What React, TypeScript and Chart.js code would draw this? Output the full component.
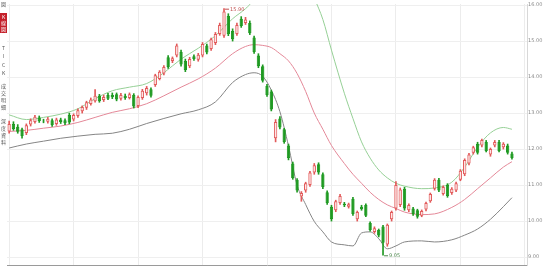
import React, { useEffect, useRef } from 'react';
import { Chart, registerables } from 'chart.js';

Chart.register(...registerables);

// ---- Candles ----
const opens = [
  12.49, 12.70, 12.62, 12.55, 12.45, 12.68, 12.75, 12.88, 12.79, 12.76,
  12.80, 12.70, 12.82, 12.80, 12.95, 12.82, 12.92, 13.05, 13.15, 13.25,
  13.33, 13.48, 13.36, 13.50, 13.50, 13.52, 13.40, 13.48, 13.42, 13.50,
  13.20, 13.42, 13.55, 13.66, 13.78, 13.95, 14.10, 14.55, 14.45, 14.60,
  14.70, 14.45, 14.30, 14.58, 14.48, 14.60, 14.88, 14.78, 14.95, 15.20,
  15.15, 15.70, 15.28, 15.20, 15.62, 15.50, 15.50, 15.10, 14.60, 14.30,
  13.75, 13.60, 12.30, 12.85, 12.55, 12.10, 11.60, 11.15, 10.68, 10.85,
  11.00, 11.35, 11.58, 11.30, 10.80, 10.40, 10.30, 10.50, 10.48, 10.40,
  10.62, 10.05, 10.40, 10.45, 9.95, 9.70, 9.75, 9.85, 9.35, 10.05,
  10.35, 10.45, 10.90, 10.30, 10.35, 10.30, 10.15, 10.32, 10.55, 10.90,
  11.15, 10.75, 11.00, 10.78, 10.85, 11.15, 11.30, 11.60, 11.90, 12.15,
  12.10, 12.20, 11.85, 12.10, 12.20, 12.05, 12.10, 11.88,
];
const highs = [
  12.78, 12.76, 12.68, 12.58, 12.70, 12.84, 12.94, 12.92, 12.83, 12.88,
  12.84, 12.86, 12.86, 12.84, 13.00, 12.98, 13.12, 13.20, 13.33, 13.42,
  13.65, 13.52, 13.50, 13.55, 13.56, 13.56, 13.55, 13.53, 13.56, 13.54,
  13.48, 13.66, 13.74, 13.70, 14.08, 14.18, 14.32, 14.60, 14.56, 14.92,
  14.75, 14.50, 14.55, 14.62, 14.66, 14.96, 14.92, 15.08, 15.24, 15.50,
  15.90, 15.76, 15.34, 15.50, 15.68, 15.66, 15.56, 15.14, 14.65, 14.34,
  13.80, 13.64, 12.82, 12.90, 12.58, 12.14, 11.64, 11.18, 10.82, 11.08,
  11.38, 11.60, 11.62, 11.34, 10.84, 10.44, 10.58, 10.74, 10.52, 10.50,
  10.66, 10.28, 10.44, 10.48, 9.98, 9.84, 9.78, 9.88, 9.92, 10.28,
  11.10, 10.92, 10.94, 10.48, 10.38, 10.33, 10.31, 10.53, 10.78, 11.18,
  11.19, 10.98, 11.04, 10.93, 11.08, 11.43, 11.73, 11.88, 12.08, 12.19,
  12.28, 12.24, 12.03, 12.24, 12.24, 12.18, 12.14, 11.92,
];
const lows = [
  12.44, 12.52, 12.44, 12.30, 12.40, 12.64, 12.72, 12.74, 12.73, 12.72,
  12.63, 12.66, 12.71, 12.68, 12.70, 12.78, 12.88, 13.00, 13.10, 13.22,
  13.30, 13.30, 13.32, 13.37, 13.40, 13.34, 13.36, 13.38, 13.39, 13.14,
  13.15, 13.38, 13.50, 13.44, 13.74, 13.92, 14.06, 14.24, 14.40, 14.56,
  14.30, 14.15, 14.26, 14.46, 14.44, 14.56, 14.64, 14.74, 14.90, 15.16,
  15.10, 15.15, 15.00, 15.16, 15.38, 15.46, 15.18, 14.66, 14.26, 13.86,
  13.46, 13.06, 12.20, 12.56, 12.16, 11.70, 11.16, 10.80, 10.55, 10.80,
  10.96, 11.30, 11.30, 10.90, 10.46, 10.00, 10.26, 10.46, 10.40, 10.36,
  10.16, 10.00, 10.30, 10.12, 9.72, 9.66, 9.56, 9.05, 9.30, 10.00,
  10.30, 10.40, 10.30, 10.26, 10.16, 10.08, 10.12, 10.28, 10.52, 10.86,
  10.82, 10.72, 10.66, 10.74, 10.82, 11.12, 11.26, 11.56, 11.86, 11.86,
  12.06, 11.92, 11.80, 12.06, 11.92, 12.00, 11.86, 11.72,
];
const closes = [
  12.70, 12.56, 12.48, 12.36, 12.66, 12.80, 12.90, 12.78, 12.77, 12.84,
  12.67, 12.82, 12.75, 12.72, 12.74, 12.95, 13.08, 13.17, 13.30, 13.38,
  13.48, 13.33, 13.45, 13.40, 13.44, 13.38, 13.50, 13.42, 13.52, 13.18,
  13.45, 13.62, 13.70, 13.48, 14.05, 14.15, 14.28, 14.28, 14.52, 14.88,
  14.35, 14.20, 14.50, 14.50, 14.62, 14.92, 14.68, 15.05, 15.20, 15.45,
  15.82, 15.20, 15.05, 15.45, 15.42, 15.60, 15.22, 14.70, 14.30, 13.90,
  13.50, 13.10, 12.75, 12.60, 12.20, 11.75, 11.20, 10.85, 10.78, 11.05,
  11.35, 11.55, 11.35, 10.95, 10.50, 10.05, 10.55, 10.70, 10.44, 10.47,
  10.20, 10.25, 10.33, 10.15, 9.75, 9.80, 9.60, 9.40, 9.90, 10.25,
  11.00, 10.88, 10.35, 10.45, 10.20, 10.12, 10.28, 10.50, 10.75, 11.15,
  10.85, 10.95, 10.70, 10.90, 11.05, 11.40, 11.70, 11.85, 12.05, 11.90,
  12.25, 11.95, 12.00, 12.20, 11.95, 12.15, 11.90, 11.75,
];

// ---- Bollinger bands (read at sampled candle positions) ----
const bandIdx = [
  0, 4, 8, 12, 16, 20, 24, 28, 32, 36, 40, 44, 48, 52, 55, 57, 59, 61, 63, 65,
  67, 69, 71, 73, 75, 78, 80, 82, 84, 86, 88, 90, 92, 96, 99, 103, 106, 109, 112, 115, 117,
];
const upperBand = [
  12.95, 12.82, 12.88, 12.97, 13.12, 13.40, 13.62, 13.72, 13.82, 14.12,
  14.50, 14.80, 15.15, 15.62, 15.90, 16.15, 16.50, 16.90, 17.30, 17.50,
  17.40, 16.80, 16.20, 15.60, 14.75, 13.55, 12.85, 12.20, 11.75, 11.42,
  11.20, 11.05, 10.97, 10.90, 10.92, 11.08, 11.50, 12.05, 12.45, 12.60, 12.55,
];
const midBand = [
  12.49, 12.52, 12.58, 12.64, 12.74, 12.88, 13.02, 13.12, 13.26, 13.48,
  13.72, 13.95, 14.25, 14.65, 14.85, 14.90, 14.88, 14.82, 14.65, 14.45,
  14.10, 13.60, 13.00, 12.55, 12.10, 11.60, 11.30, 11.05, 10.80, 10.60,
  10.45, 10.35, 10.25, 10.18, 10.20, 10.38, 10.60, 10.90, 11.20, 11.50, 11.65,
];
const lowerBand = [
  12.03, 12.14, 12.22, 12.30, 12.36, 12.41, 12.44, 12.55, 12.71, 12.85,
  12.98, 13.09, 13.31, 13.85, 14.07, 14.12, 14.02, 13.64, 13.04, 12.09,
  11.00, 10.46, 9.99, 9.70, 9.42, 9.34, 9.31, 9.67, 9.70, 9.51,
  9.23, 9.31, 9.42, 9.45, 9.42, 9.48, 9.61, 9.78, 10.05, 10.40, 10.65,
];

const yTicks = [9, 10, 11, 12, 13, 14, 15, 16];
const EXTRA_SLOTS = 3;

const tabTop = ['圖'];
const tabActive = ['K', '線', '圖'];
const tabTick = ['T', 'I', 'C', 'K'];
const tabDetail = ['成', '交', '明', '細'];
const tabDepth = ['深', '度', '資', '料'];

const UP_FILL = '#fde6e6';
const UP_LINE = '#e25a5a';
const DOWN = '#1f9a22';

export default function App() {
  const ref = useRef<HTMLCanvasElement>(null);

  useEffect(() => {
    document.body.style.margin = '0';
    const n = opens.length + EXTRA_SLOTS;
    const labels = Array.from({ length: n }, (_, i) => String(i));
    const bodies = opens.map((o, i) => [o, closes[i]]);
    const wicks = opens.map((_, i) => [lows[i], highs[i]]);
    const up = opens.map((o, i) => closes[i] >= o);
    const toFull = (vals: number[]) => {
      const arr: (number | null)[] = new Array(n).fill(null);
      bandIdx.forEach((ix, k) => (arr[ix] = vals[k]));
      return arr;
    };

    const overlay = {
      id: 'overlay',
      afterDatasetsDraw(chart: any) {
        const ctx = chart.ctx;
        const xs = chart.scales.x;
        const ys = chart.scales.y;
        let hiI = 0;
        let loI = 0;
        highs.forEach((h, i) => { if (h > highs[hiI]) hiI = i; });
        lows.forEach((l, i) => { if (l < lows[loI]) loI = i; });
        ctx.save();
        ctx.font = '5px "DejaVu Sans"';
        ctx.textBaseline = 'middle';
        ctx.textAlign = 'left';
        const hx = xs.getPixelForValue(hiI);
        const hy = ys.getPixelForValue(highs[hiI]);
        ctx.strokeStyle = '#c05050';
        ctx.lineWidth = 1;
        ctx.beginPath();
        ctx.moveTo(hx + 1, hy + 0.5);
        ctx.lineTo(hx + 5, hy + 0.5);
        ctx.stroke();
        ctx.fillStyle = '#c05050';
        ctx.fillText(highs[hiI].toFixed(2), hx + 6, hy + 1);
        const lx = xs.getPixelForValue(loI);
        const ly = ys.getPixelForValue(lows[loI]);
        ctx.strokeStyle = '#4f8a4f';
        ctx.beginPath();
        ctx.moveTo(lx + 1, ly + 0.5);
        ctx.lineTo(lx + 5, ly + 0.5);
        ctx.stroke();
        ctx.fillStyle = '#4f8a4f';
        ctx.fillText(lows[loI].toFixed(2), lx + 6, ly);
        ctx.restore();
      },
      afterDraw(chart: any) {
        const ctx = chart.ctx;
        ctx.save();
        ctx.fillStyle = '#ffffff';
        ctx.fillRect(0, 0, 7, chart.height);
        ctx.font = '5px "Noto Sans CJK TC"';
        ctx.textAlign = 'center';
        ctx.textBaseline = 'middle';
        const put = (chars: string[], y0: number, step: number, color: string) => {
          ctx.fillStyle = color;
          chars.forEach((c, k) => ctx.fillText(c, 3.5, y0 + k * step));
        };
        put(tabTop, 4, 6, '#555');
        ctx.fillStyle = '#c4202a';
        ctx.fillRect(0, 13, 7, 20);
        put(tabActive, 17, 6, '#ffffff');
        put(tabTick, 48, 8.3, '#555');
        put(tabDetail, 86, 7, '#555');
        put(tabDepth, 121, 7, '#555');
        ctx.restore();
      },
    };

    const chart = new Chart(ref.current as HTMLCanvasElement, {
      type: 'bar',
      data: {
        labels,
        datasets: [
          {
            type: 'bar',
            data: bodies as any,
            backgroundColor: up.map((u) => (u ? UP_FILL : DOWN)),
            borderColor: up.map((u) => (u ? UP_LINE : DOWN)),
            borderWidth: 1,
            borderSkipped: false,
            barPercentage: 0.78,
            categoryPercentage: 1,
            grouped: false,
            order: 1,
          } as any,
          {
            type: 'bar',
            data: wicks as any,
            backgroundColor: up.map((u) => (u ? UP_LINE : DOWN)),
            borderWidth: 0,
            barThickness: 1,
            grouped: false,
            order: 2,
          } as any,
          {
            type: 'line',
            data: toFull(upperBand),
            borderColor: '#96d096',
            borderWidth: 1,
            pointRadius: 0,
            spanGaps: true,
            cubicInterpolationMode: 'monotone',
            order: 3,
          } as any,
          {
            type: 'line',
            data: toFull(midBand),
            borderColor: '#e48898',
            borderWidth: 1,
            pointRadius: 0,
            spanGaps: true,
            cubicInterpolationMode: 'monotone',
            order: 3,
          } as any,
          {
            type: 'line',
            data: toFull(lowerBand),
            borderColor: '#858585',
            borderWidth: 1,
            pointRadius: 0,
            spanGaps: true,
            cubicInterpolationMode: 'monotone',
            order: 3,
          } as any,
        ],
      },
      options: {
        responsive: false,
        animation: false,
        devicePixelRatio: 1,
        layout: { padding: { left: 7, top: 0, right: 0, bottom: 2 } },
        plugins: { legend: { display: false }, tooltip: { enabled: false } },
        scales: {
          x: {
            type: 'category',
            offset: true,
            ticks: { display: false },
            grid: {
              offset: false,
              drawTicks: false,
              color: (c: any) => (c.index % 15 === 0 ? '#ececec' : 'rgba(0,0,0,0)'),
            },
            border: { display: true, color: '#9a9a9a' },
          },
          y: {
            position: 'right',
            min: 8.78,
            max: 16.03,
            afterBuildTicks: (s: any) => {
              s.ticks = yTicks.map((v) => ({ value: v }));
            },
            afterFit: (s: any) => {
              s.width = 23;
            },
            ticks: {
              padding: 1,
              color: '#8a8a8a',
              font: { size: 5, family: 'DejaVu Sans' },
              callback: (v: any) => Number(v).toFixed(2),
            },
            grid: { color: '#efefef', drawTicks: false },
            border: { display: true, color: '#d8d8d8' },
          },
        },
      },
      plugins: [overlay],
    });
    return () => chart.destroy();
  }, []);

  return (
    <div style={{ position: 'absolute', left: 0, top: 0, width: 550, height: 269, background: '#fff' }}>
      <canvas ref={ref} width={550} height={269} />
    </div>
  );
}
